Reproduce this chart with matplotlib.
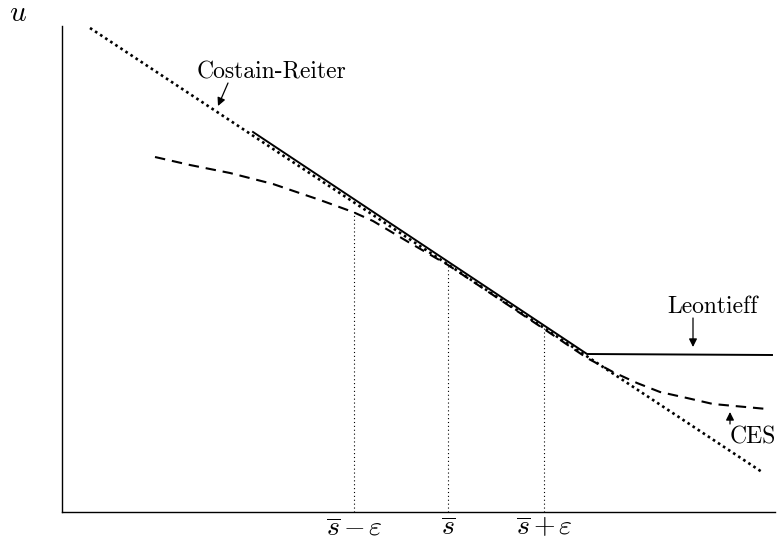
import numpy as np
import matplotlib.pyplot as plt

plt.rcParams['mathtext.fontset'] = 'cm'

# Costain-Reiter (straight dotted line)
cr_x = [0.28, 7.00]
cr_y = [4.84, 0.40]

# Leontieff (solid, kinked)
leo_x = [1.91, 5.25, 7.10]
leo_y = [3.80, 1.58, 1.57]

# CES (dashed curve)
ces_x = [0.93, 1.28, 1.68, 2.11, 2.58, 2.91, 3.11, 3.48, 3.86, 4.34, 4.82, 5.25, 5.51, 5.75, 5.98, 6.25, 6.51, 7.05]
ces_y = [3.55, 3.47, 3.39, 3.28, 3.12, 3.00, 2.91, 2.69, 2.47, 2.15, 1.83, 1.54, 1.40, 1.29, 1.20, 1.14, 1.08, 1.03]

# points s-eps, s, s+eps and heights of dotted guides
s_pts = [2.92, 3.86, 4.82]
s_top = [3.01, 2.47, 1.84]
s_labels = [r'$\overline{s}\,{-}\,\varepsilon$', r'$\overline{s}$', r'$\overline{s}\,{+}\,\varepsilon$']

fig = plt.figure(figsize=(7.78, 5.42), dpi=100)
ax = fig.add_axes([62/778, 30/542, 713/778, 486/542])

ax.plot(cr_x, cr_y, color='black', lw=1.9, linestyle=(0, (1, 1.3)))
ax.plot(leo_x, leo_y, color='black', lw=1.4)
ax.plot(ces_x, ces_y, color='black', lw=1.5, linestyle=(0, (5, 3.3)))

for x, top in zip(s_pts, s_top):
    ax.plot([x, x], [0, top], color='black', lw=0.8, linestyle=(0, (1, 2.5)))

ax.set_xlim(0, 7.13)
ax.set_ylim(0, 4.86)
ax.spines['top'].set_visible(False)
ax.spines['right'].set_visible(False)
ax.spines['left'].set_linewidth(1.0)
ax.spines['bottom'].set_linewidth(1.0)
ax.set_yticks([])
ax.set_xticks(s_pts)
ax.set_xticklabels(s_labels, fontsize=20)
ax.tick_params(axis='x', length=0, pad=1)

fig.text(18/778, 1 - 21/542, r'$u$', fontsize=21, ha='center', va='baseline')

lab = dict(fontfamily='cmr10', fontsize=17, ha='center', va='center')
arr = dict(arrowstyle='-|>', color='black', lw=0.9, mutation_scale=12, shrinkA=0, shrinkB=0)
ax.text(2.10, 4.40, 'Costain-Reiter', **lab)
ax.annotate('', xy=(1.56, 4.06), xytext=(1.66, 4.29), arrowprops=arr)
ax.text(6.51, 2.05, 'Leontieff', **lab)
ax.annotate('', xy=(6.31, 1.65), xytext=(6.31, 1.94), arrowprops=arr)
ax.text(6.91, 0.75, 'CES', **lab)
ax.annotate('', xy=(6.68, 1.00), xytext=(6.68, 0.88), arrowprops=arr)

fig.savefig('out.png', dpi=100)
